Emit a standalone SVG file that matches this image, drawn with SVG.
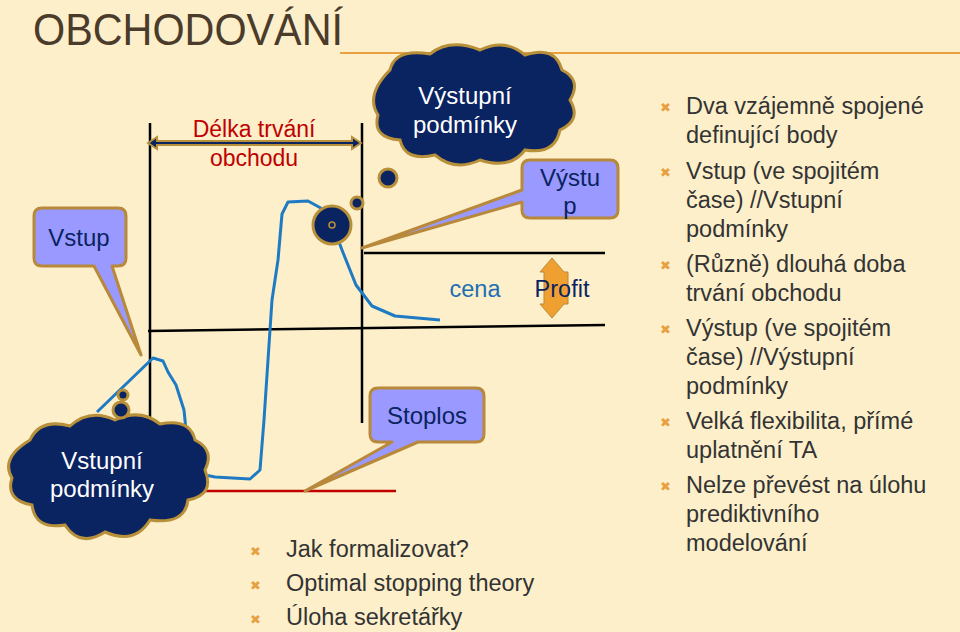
<svg xmlns="http://www.w3.org/2000/svg" width="960" height="632" viewBox="0 0 960 632">
<defs>
<style>
.t{font-family:"Liberation Sans",Arial,sans-serif}
.cl{fill:#0a2361;stroke:#b8903a;stroke-width:3}
.co{fill:#9999ff;stroke:#b8893a;stroke-width:3;stroke-linejoin:round}
.ln{stroke:#000;stroke-width:2.5;fill:none}
.bt{font-family:"Liberation Sans",Arial,sans-serif;font-size:23.5px;fill:#333}
.bl{font-family:"DejaVu Sans",sans-serif;font-size:13px;fill:#e8a040}
</style>
<linearGradient id="fade" x1="0" y1="0" x2="0" y2="1">
<stop offset="0" stop-color="#4a3b2a" stop-opacity="0.25"/>
<stop offset="1" stop-color="#4a3b2a" stop-opacity="0"/>
</linearGradient>
</defs>
<rect width="960" height="632" fill="#fcefca"/>
<g id="title">
<text x="33" y="45" font-family="'Liberation Sans','DejaVu Sans',sans-serif" font-size="44" fill="#4a3b2a" textLength="310" lengthAdjust="spacingAndGlyphs">OBCHODOVÁNÍ</text>
<line x1="340" y1="53" x2="960" y2="53" stroke="#e8a040" stroke-width="2"/>
</g>
<g id="connectors">
<line class="ln" x1="150" y1="123" x2="150" y2="423"/>
<line class="ln" x1="362" y1="123" x2="362" y2="423"/>
<line class="ln" x1="148" y1="331" x2="605" y2="325"/>
<line class="ln" x1="364" y1="253" x2="605" y2="253"/>
<line x1="205" y1="491" x2="396" y2="491" stroke="#c00000" stroke-width="2.5"/>
<path d="M97,412 L153,358 L163,361 L168,372 L176,385 L184,410 L187,440 L190,462 L200,474 L215,477 L250,479 L260,470 L264,420 L268,360 L272,300 L278,260 L282,214 L288,202 L308,201 L328,212 L342,250 L356,285 L372,306 L395,316 L440,320" fill="none" stroke="#1f7ac4" stroke-width="3" stroke-linejoin="round"/>
<path d="M148,143 L157,137 L157,141 L352,141 L352,137 L361,143 L352,149 L352,145 L157,145 L157,149 Z" fill="#0a2361" stroke="#b8903a" stroke-width="2"/>
<path d="M552,258 L564,272 L568,272 L568,304 L564,304 L552,318 L540,304 L544,304 L544,272 L540,272 Z" fill="#f0a030" stroke="#b8893a" stroke-width="1"/>
</g>
<g id="cloud-top">
<path class="cl" d="M390,70 Q395,48 430,54 Q450,38 480,50 Q505,38 525,55 Q555,45 562,70 Q582,80 570,100 Q582,120 560,130 Q555,155 525,150 Q510,170 480,160 Q455,172 435,155 Q405,162 400,140 Q372,138 378,115 Q365,95 390,70 Z"/>
<circle class="cl" cx="388" cy="178" r="9"/>
<circle class="cl" cx="357" cy="203" r="6"/>
<circle class="cl" cx="332" cy="225" r="19"/>
<circle cx="332" cy="225" r="3" fill="none" stroke="#b8903a" stroke-width="1.5"/>
<text class="t" x="465" y="104" font-size="24" fill="#fff" text-anchor="middle">Výstupní</text>
<text class="t" x="465" y="133" font-size="24" fill="#fff" text-anchor="middle">podmínky</text>
</g>
<g id="cloud-bottom">
<path class="cl" d="M30,440 Q40,418 70,426 Q90,408 115,420 Q140,408 160,424 Q190,418 195,440 Q215,450 205,470 Q215,495 188,500 Q185,525 150,520 Q135,545 105,532 Q80,548 65,525 Q35,530 32,505 Q5,500 12,478 Q0,458 30,440 Z"/>
<circle class="cl" cx="121" cy="410" r="8"/>
<circle class="cl" cx="123" cy="395" r="5"/>
<text class="t" x="102" y="469" font-size="24" fill="#fff" text-anchor="middle">Vstupní</text>
<text class="t" x="102" y="497" font-size="24" fill="#fff" text-anchor="middle">podmínky</text>
</g>
<g id="callout-vstup">
<path class="co" d="M42,208 L118,208 Q126,208 126,216 L126,258 Q126,266 118,266 L112,266 L141,355 L94,266 L42,266 Q34,266 34,258 L34,216 Q34,208 42,208 Z"/>
<text class="t" x="79" y="246" font-size="24" fill="#0a2361" text-anchor="middle">Vstup</text>
</g>
<g id="callout-vystup">
<path class="co" d="M530,160 L610,160 Q618,160 618,168 L618,210 Q618,218 610,218 L530,218 Q522,218 522,210 L522,202 L362,248 L522,190 L522,168 Q522,160 530,160 Z"/>
<text class="t" x="570" y="186" font-size="24" fill="#0a2361" text-anchor="middle">Výstu</text>
<text class="t" x="570" y="214" font-size="24" fill="#0a2361" text-anchor="middle">p</text>
</g>
<g id="callout-stoplos">
<path class="co" d="M378,388 L476,388 Q484,388 484,396 L484,434 Q484,442 476,442 L418,442 L305,491 L392,442 L378,442 Q370,442 370,434 L370,396 Q370,388 378,388 Z"/>
<text class="t" x="427" y="424" font-size="24" fill="#0a2361" text-anchor="middle">Stoplos</text>
</g>
<g id="labels">
<text class="t" x="254" y="137" font-size="23" fill="#c00000" text-anchor="middle">Délka trvání</text>
<text class="t" x="254" y="166" font-size="23" fill="#c00000" text-anchor="middle">obchodu</text>
<text class="t" x="475" y="297" font-size="23.5" fill="#1f6fb4" text-anchor="middle">cena</text>
<text class="t" x="562" y="297" font-size="23.5" fill="#0a2361" text-anchor="middle">Profit</text>
</g>
<g id="bullets-bottom">
<text class="bl" x="250" y="556">✖</text><text class="bt" x="286" y="557">Jak formalizovat?</text>
<text class="bl" x="250" y="590">✖</text><text class="bt" x="286" y="591">Optimal stopping theory</text>
<text class="bl" x="250" y="624">✖</text><text class="bt" x="286" y="625">Úloha sekretářky</text>
</g>
<g id="bullets-right">
<text class="bl" x="660" y="112">✖</text><text class="bt" x="686" y="114">Dva vzájemně spojené</text><text class="bt" x="686" y="143">definující body</text>
<text class="bl" x="660" y="177">✖</text><text class="bt" x="686" y="179">Vstup (ve spojitém</text><text class="bt" x="686" y="208">čase) //Vstupní</text><text class="bt" x="686" y="237">podmínky</text>
<text class="bl" x="660" y="270">✖</text><text class="bt" x="686" y="272">(Různě) dlouhá doba</text><text class="bt" x="686" y="301">trvání obchodu</text>
<text class="bl" x="660" y="334">✖</text><text class="bt" x="686" y="336">Výstup (ve spojitém</text><text class="bt" x="686" y="365">čase) //Výstupní</text><text class="bt" x="686" y="394">podmínky</text>
<text class="bl" x="660" y="427">✖</text><text class="bt" x="686" y="429">Velká flexibilita, přímé</text><text class="bt" x="686" y="458">uplatnění TA</text>
<text class="bl" x="660" y="491">✖</text><text class="bt" x="686" y="493">Nelze převést na úlohu</text><text class="bt" x="686" y="522">prediktivního</text><text class="bt" x="686" y="551">modelování</text>
</g>
</svg>
